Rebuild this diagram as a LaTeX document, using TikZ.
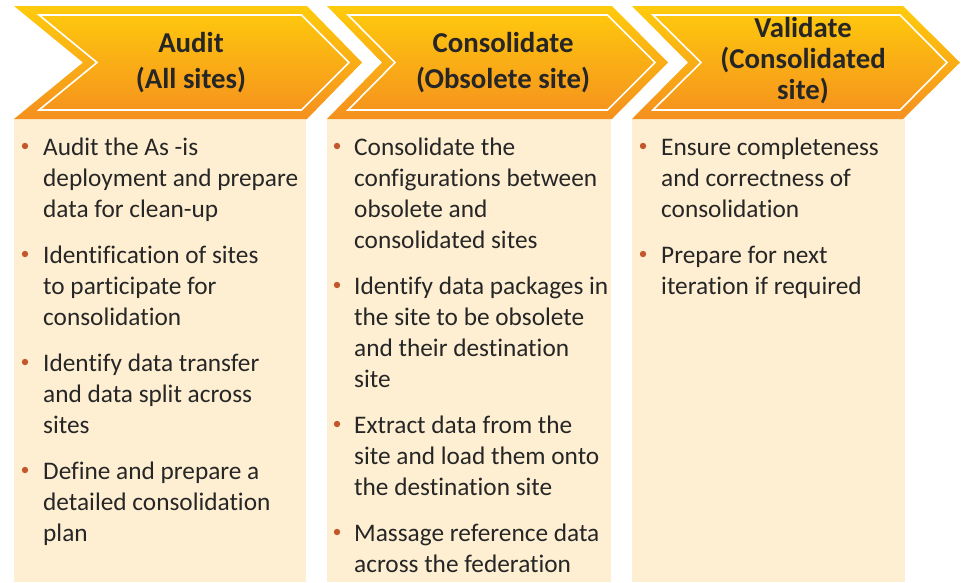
\documentclass[tikz,border=0pt]{standalone}
\usepackage{fontspec}
\setmainfont{Carlito}[Ligatures=NoCommon]
\definecolor{chevtop}{HTML}{FFCB0C}
\definecolor{chevbot}{HTML}{F5901F}
\definecolor{boxfill}{HTML}{FEEFD2}
\definecolor{txt}{HTML}{262626}
\definecolor{bulc}{HTML}{C4562C}
\begin{document}
\begin{tikzpicture}[x=1pt,y=-1pt,
  chev/.style={top color=chevtop, bottom color=chevbot, draw=none},
  innerline/.style={draw=white, line width=1.6pt, line join=miter},
  colbox/.style={fill=boxfill, draw=none},
  head/.style={anchor=base, inner sep=0pt, text=txt, font=\fontsize{28.8}{36}\selectfont\bfseries},
  body/.style={anchor=base west, inner sep=0pt, align=left, text=txt, font=\fontsize{25.3}{31}\selectfont},
  bul/.style={circle, fill=bulc, inner sep=0pt, minimum size=6.4pt}]
\useasboundingbox (0,0) rectangle (963,582);
% column boxes
\fill[colbox] (14,118) rectangle (306,582);
\fill[colbox] (327,118) rectangle (611,582);
\fill[colbox] (632,118) rectangle (905,582);
% chevrons
\shade[chev] (14,6) -- (307,6) -- (362,62.5) -- (307,119) -- (14,119) -- (83,62.5) -- cycle;
\draw[innerline] (39,15) -- (301.5,15) -- (349,62.5) -- (301.5,110) -- (39,110) -- (97,62.5) -- cycle;
\shade[chev] (327,6) -- (612,6) -- (668,62.5) -- (612,119) -- (327,119) -- (382,62.5) -- cycle;
\draw[innerline] (348,15) -- (607.5,15) -- (655,62.5) -- (607.5,110) -- (348,110) -- (395,62.5) -- cycle;
\shade[chev] (632,6) -- (903,6) -- (960,62.5) -- (903,119) -- (632,119) -- (688,62.5) -- cycle;
\draw[innerline] (653,15) -- (900,15) -- (947,62.5) -- (900,110) -- (653,110) -- (701,62.5) -- cycle;
% headings
\node[head] (h1a) at (191,52) {Audit};
\node[head] (h1b) at (191,88) {(All sites)};
\node[head] (h2a) at (503,52) {Consolidate};
\node[head] (h2b) at (503,88) {(Obsolete site)};
\node[head] (h3a) at (803,37) {Validate};
\node[head] (h3b) at (803,68) {(Consolidated};
\node[head] (h3c) at (803,99) {site)};
% column 1 (node base = last line's baseline)
\node[bul] (b11) at (25,146) {};
\node[body] (t11) at (43,217) {Audit the As -is\\deployment and prepare\\data for clean-up};
\node[bul] (b12) at (25,254) {};
\node[body] (t12) at (43,325) {Identification of sites\\to participate for\\consolidation};
\node[bul] (b13) at (25,362) {};
\node[body] (t13) at (43,433) {Identify data transfer\\and data split across\\sites};
\node[bul] (b14) at (25,470) {};
\node[body] (t14) at (43,541) {Define and prepare a\\detailed consolidation\\plan};
% column 2
\node[bul] (b21) at (337,146) {};
\node[body] (t21) at (354,248) {Consolidate the\\configurations between\\obsolete and\\consolidated sites};
\node[bul] (b22) at (337,285) {};
\node[body] (t22) at (354,387) {Identify data packages in\\the site to be obsolete\\and their destination\\site};
\node[bul] (b23) at (337,424) {};
\node[body] (t23) at (354,495) {Extract data from the\\site and load them onto\\the destination site};
\node[bul] (b24) at (337,532) {};
\node[body] (t24) at (354,572) {Massage reference data\\across the federation};
% column 3
\node[bul] (b31) at (643,146) {};
\node[body] (t31) at (661,217) {Ensure completeness\\and correctness of\\consolidation};
\node[bul] (b32) at (643,254) {};
\node[body] (t32) at (661,294) {Prepare for next\\iteration if required};
\end{tikzpicture}
\end{document}
